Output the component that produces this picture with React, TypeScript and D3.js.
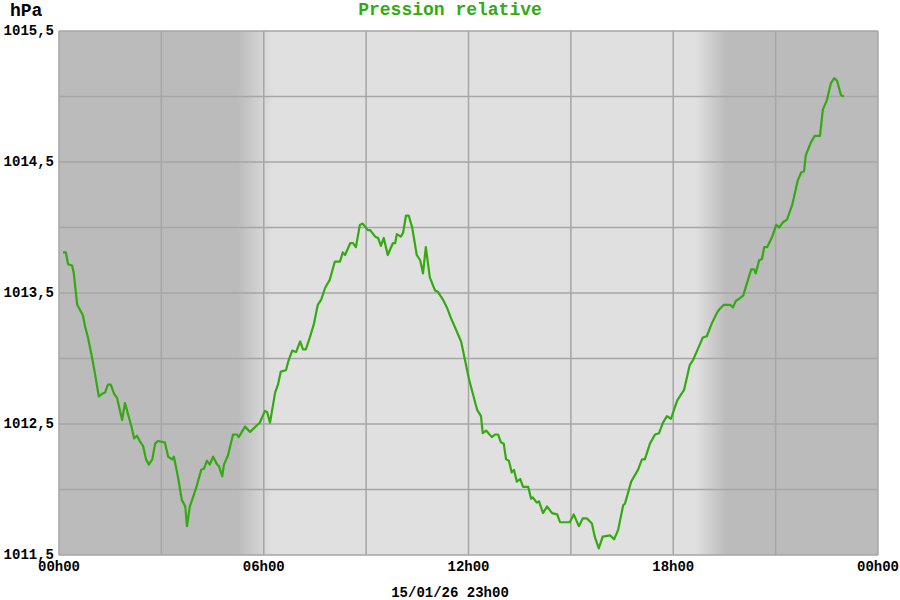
import React from "react";
import * as d3 from "d3";

// time in minutes since 00h00, pressure in hPa
const minutes = [7,12,16,23,26,32,37,42,46,51,58,63,70,76,81,86,91,97,102,111,116,128,132,137,142,148,153,158,164,169,174,186,192,199,202,209,216,222,225,230,241,250,255,260,265,271,278,281,287,290,297,306,313,316,327,336,348,353,362,366,371,380,385,390,399,404,410,417,424,429,434,441,448,455,461,468,476,485,494,499,503,512,517,522,529,534,543,547,556,561,566,571,578,587,591,594,601,605,610,615,621,629,635,640,645,652,661,666,675,682,689,696,707,721,735,742,745,751,761,767,772,777,782,786,791,796,800,805,811,816,825,830,833,840,844,851,858,867,876,881,898,905,914,921,928,937,942,949,956,969,976,983,992,995,1006,1018,1025,1030,1039,1048,1055,1062,1069,1076,1087,1099,1109,1115,1122,1132,1139,1148,1157,1162,1169,1180,1185,1190,1194,1203,1217,1222,1225,1231,1236,1240,1245,1254,1261,1266,1273,1280,1289,1299,1305,1310,1313,1322,1329,1338,1343,1350,1357,1363,1368,1375,1380];
const pressure = [1013.81,1013.81,1013.72,1013.71,1013.65,1013.41,1013.37,1013.33,1013.24,1013.16,1013.01,1012.89,1012.71,1012.73,1012.74,1012.80,1012.80,1012.73,1012.70,1012.53,1012.66,1012.47,1012.39,1012.41,1012.37,1012.33,1012.23,1012.19,1012.23,1012.35,1012.37,1012.36,1012.25,1012.23,1012.25,1012.10,1011.92,1011.87,1011.72,1011.87,1012.01,1012.15,1012.16,1012.22,1012.19,1012.25,1012.19,1012.18,1012.10,1012.19,1012.26,1012.42,1012.42,1012.40,1012.48,1012.44,1012.49,1012.51,1012.60,1012.59,1012.51,1012.74,1012.80,1012.90,1012.91,1012.99,1013.06,1013.05,1013.13,1013.07,1013.07,1013.16,1013.26,1013.41,1013.45,1013.54,1013.60,1013.74,1013.74,1013.81,1013.79,1013.88,1013.88,1013.85,1014.02,1014.03,1013.98,1013.98,1013.93,1013.92,1013.86,1013.92,1013.79,1013.88,1013.88,1013.95,1013.93,1013.96,1014.09,1014.09,1014.00,1013.79,1013.75,1013.65,1013.85,1013.62,1013.52,1013.51,1013.45,1013.39,1013.31,1013.24,1013.13,1012.84,1012.61,1012.56,1012.43,1012.45,1012.40,1012.42,1012.42,1012.36,1012.35,1012.23,1012.22,1012.13,1012.15,1012.06,1012.08,1012.02,1012.02,1011.93,1011.94,1011.90,1011.91,1011.82,1011.87,1011.82,1011.81,1011.75,1011.75,1011.81,1011.72,1011.78,1011.78,1011.74,1011.64,1011.55,1011.64,1011.65,1011.62,1011.69,1011.88,1011.89,1012.06,1012.15,1012.23,1012.23,1012.35,1012.42,1012.43,1012.51,1012.56,1012.54,1012.68,1012.76,1012.95,1012.99,1013.06,1013.16,1013.17,1013.27,1013.35,1013.38,1013.41,1013.41,1013.39,1013.44,1013.45,1013.48,1013.68,1013.68,1013.65,1013.75,1013.76,1013.85,1013.85,1013.93,1014.02,1014.00,1014.04,1014.06,1014.17,1014.36,1014.42,1014.43,1014.55,1014.65,1014.70,1014.70,1014.90,1014.97,1015.10,1015.14,1015.12,1015.01,1015.00];

const yTicks = [1011.5, 1012, 1012.5, 1013, 1013.5, 1014, 1014.5, 1015, 1015.5];
const yLabels = [1011.5, 1012.5, 1013.5, 1014.5, 1015.5];
const xGrid = [0, 180, 360, 540, 720, 900, 1080, 1260, 1440];
const xLabelTicks = [0, 360, 720, 1080, 1440];
const xLabelText = ["00h00", "06h00", "12h00", "18h00", "00h00"];
const title = "Pression relative";
const unit = "hPa";
const dateLabel = "15/01/26 23h00";

const W = 900, H = 600;
const L = 59, R = 878, T = 31, B = 555;
const font = "'Liberation Mono', 'DejaVu Sans Mono', monospace";
const green = "#33aa11";

export default function App() {
  const x = d3.scaleLinear().domain([0, 1440]).range([L, R]);
  const y = d3.scaleLinear().domain([1011.5, 1015.5]).range([B, T]);
  const line = d3.line<number>().x((_, i) => x(minutes[i])).y((d) => y(d));
  const fmt = (v: number) => v.toFixed(1).replace(".", ",");
  return (
    <svg width={W} height={H} style={{ position: "absolute", left: 0, top: 0 }}>
      <defs>
        <linearGradient id="bg" x1="0" x2="1" y1="0" y2="0">
          <stop offset="0" stopColor="#bbbbbb" />
          <stop offset="0.218" stopColor="#bbbbbb" />
          <stop offset="0.262" stopColor="#e0e0e0" />
          <stop offset="0.777" stopColor="#e0e0e0" />
          <stop offset="0.815" stopColor="#bbbbbb" />
          <stop offset="1" stopColor="#bbbbbb" />
        </linearGradient>
      </defs>
      <rect x={0} y={0} width={W} height={H} fill="#ffffff" />
      <rect x={L} y={T} width={R - L} height={B - T} fill="url(#bg)" />
      {yTicks.map((t) => (
        <line key={"y" + t} x1={L} x2={R} y1={y(t)} y2={y(t)} stroke="#a6a6a6" strokeWidth={1.5} />
      ))}
      {xGrid.map((t) => (
        <line key={"x" + t} x1={x(t)} x2={x(t)} y1={T} y2={B} stroke="#a6a6a6" strokeWidth={1.5} />
      ))}
      <path d={line(pressure) || ""} fill="none" stroke={green} strokeWidth={2.2} strokeLinejoin="round" />
      {yLabels.map((t) => (
        <text key={"yl" + t} x={54} y={y(t) + 4} textAnchor="end" fontFamily={font} fontWeight="bold" fontSize={14} fill="#000">
          {fmt(t)}
        </text>
      ))}
      {xLabelTicks.map((t, i) => (
        <text key={"xl" + i} x={x(t)} y={571} textAnchor="middle" fontFamily={font} fontWeight="bold" fontSize={14} fill="#000">
          {xLabelText[i]}
        </text>
      ))}
      <text x={10} y={16} fontFamily={font} fontWeight="bold" fontSize={18} fill="#000">{unit}</text>
      <text x={450} y={15} textAnchor="middle" fontFamily={font} fontWeight="bold" fontSize={18} fill={green}>{title}</text>
      <text x={450} y={597} textAnchor="middle" fontFamily={font} fontWeight="bold" fontSize={14} fill="#000">{dateLabel}</text>
    </svg>
  );
}
